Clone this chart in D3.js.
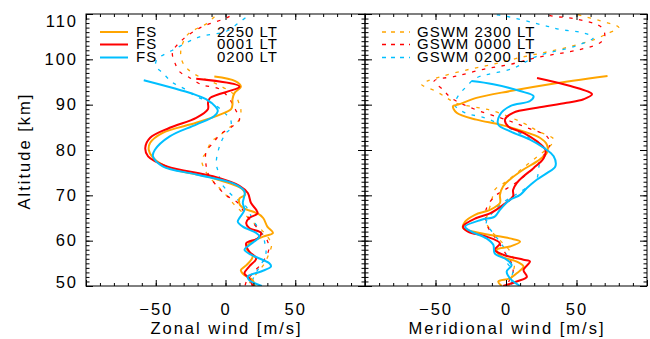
<!DOCTYPE html>
<html>
<head>
<meta charset="utf-8">
<script src="https://cdn.jsdelivr.net/npm/d3@7"></script>
<style>
body { margin: 0; background: #fff; }
text { font-family: "Liberation Sans", Arial, Helvetica, sans-serif; fill: #000; }
</style>
</head>
<body>
<div id="chart"></div>
<script>
// tick values
const altMajor = [50, 60, 70, 80, 90, 100, 110]
const windMajor = [-100, -50, 0, 50, 100]
const windLabels = [-50, 0, 50]

// legend labels
const fsNames = ['FS', 'FS', 'FS']
const fsTimes = ['2250 LT', '0001 LT', '0200 LT']
const gswmNames = ['GSWM 2300 LT', 'GSWM 0000 LT', 'GSWM 0200 LT']

// each point is [altitude km, wind m/s]
const zonalFS2250 = [[96.2,-8],[95.2,7],[94,11],[92.6,6.5],[91.2,5],[90,5],[89,4],[87.8,-4],[86,-21],[83.8,-45],[81.6,-54],[80,-55],[78.3,-52],[76,-40],[73.8,-9],[71.4,12],[70.1,14],[69.3,10],[67.8,10.5],[67,14],[66,23],[65,27],[63.1,30],[61.7,34],[60.9,27],[59.4,17],[58.3,15],[56.5,19.5],[54.6,15],[53.5,11],[52.4,13.5],[51.3,19.5],[50,21]]
const zonalFS0001 = [[95.7,-21],[94,10],[91.5,-11],[90.5,-12.5],[89,-12.6],[87.1,-21],[84.9,-40],[82.7,-54],[80.5,-57.5],[78.6,-55.5],[76.4,-42],[74.2,-9],[72.1,10],[70.5,16],[68.3,18.3],[66.8,22],[66,23],[65,17],[63.9,14.8],[62.8,17],[61.7,25.5],[60.5,23],[59.4,14.8],[57.6,17],[56.1,22],[54.3,17],[52.8,13.6],[51.7,17],[50,19.5]]
const zonalFS0200 = [[95.4,-58.6],[92.4,-23.5],[91.2,-14],[89.5,-7],[88.6,-5.5],[87.5,-8],[85.6,-21],[83,-40],[80,-50.7],[78.6,-52],[76.4,-45],[74.6,-21],[72.7,5],[70.9,13.6],[68.3,12.4],[66.8,13.6],[65,10],[64.2,8.8],[63.1,12.4],[61.7,22],[60.9,24.3],[59,17],[58,13.6],[56.9,18.3],[55,31.4],[54.3,32.6],[53.2,25.5],[52.1,16],[51.3,17],[50,26]]

const zonalGSWM2300 = [[111,-3],[108,-13],[105.5,-27],[102,-32],[99.5,-31],[97.8,-27],[96.2,-19],[94.5,-6],[92,7],[90,10],[89,11],[86.7,10],[85,3],[83,-5],[81.9,-10],[79.4,-14],[77.9,-17],[75.7,-15],[73.5,-10],[71.5,-4],[69.5,2],[67.9,6.5],[66,13],[64,20],[62,27],[60,32],[59,33],[57,31],[55,28],[53,23],[51,18],[50,16]]
const zonalGSWM0000 = [[111,8],[109.5,3],[107,-18],[104,-32],[101.5,-38],[99,-36],[97.3,-33],[96,-26],[94.4,-17],[93.4,-4],[91.2,3],[89,7],[86.7,10],[85,4],[83.4,-4],[81.5,-9],[79.7,-13.8],[76.8,-14],[74.5,-12],[72,-6],[70,0.5],[68.3,9],[66,14],[64,19.5],[62,25],[60,30],[58,31],[56.5,29],[55,26],[53,20],[51,15],[50,14]]
const zonalGSWM0200 = [[111,18],[109.7,16],[108.2,10],[106.2,0.7],[104.9,-19],[102,-38],[100,-49],[98.5,-50],[97,-45],[94.9,-38],[93.6,-30],[92,-22],[90,-8],[88,0],[86.3,4],[84.5,3],[83.8,0.5],[80.8,-4.3],[77.1,-6.6],[75,-5],[72.7,-3],[70.5,3],[69,8.6],[67.5,14.8],[65,19],[63,23],[61,27],[59.8,28],[57.2,29],[55,26],[53,22],[51,19],[50,18]]

const meridFS2250 = [[96.3,72],[94.5,31],[93,3],[91.5,-21],[90,-34],[89.7,-37.6],[88.2,-35],[86.7,-21],[85.6,-4.3],[84.1,12.4],[82.7,24],[81.2,29],[79.4,29],[77.5,22],[75.7,12.4],[73.5,2.8],[72,-2],[70.1,-4.3],[68.3,-4.3],[66.8,-11.4],[65.7,-22],[64.2,-29],[62.8,-30.5],[61.7,-18.6],[60.5,2.8],[59.8,10],[58.7,2.8],[58,-6.6],[56.5,-3],[55.4,7.6],[54.3,12.4],[52.8,7.6],[51.7,2.8],[51,-5.5],[50,-3]]
const meridFS0001 = [[95.9,22],[94.1,45.7],[92.3,61],[91.2,55],[90.4,43],[89.3,22],[88.2,5],[86.7,-0.7],[85.2,1.6],[83.8,12.4],[81.9,22],[80,28],[78.2,26.7],[76,19.5],[74.2,12.4],[72.7,7.6],[71.2,5],[69.8,5],[67.9,-2],[66,-11.4],[65,-21],[63.1,-30.5],[62,-27],[60.9,-13.8],[59.4,-4.3],[58,-8],[56.9,-2],[55.8,12.4],[55.4,17],[53.5,12.4],[52,14.8],[51,7.6],[50,-2]]
const meridFS0200 = [[95.2,-24.5],[94.5,-9],[93,10],[91.9,19.5],[90.8,17],[89.7,3],[87.8,-4.3],[85.6,-5.5],[84.1,3],[82.3,17],[80.5,26.7],[78.6,33.8],[76.4,35],[74.9,29],[73.5,22],[71.6,14.8],[70.1,10],[69,2.8],[66.8,-4.3],[65.3,-8],[64.6,-17.4],[63.1,-29],[62,-24.5],[60.5,-13.8],[59.1,-9],[57.2,-8],[55.8,0.5],[54.6,4],[53.2,0.5],[51.7,2.8],[50,10]]

const meridGSWM2300 = [[111,45],[110,50],[108.5,67],[107,80],[105.7,72],[104.4,63],[102.6,43],[101.5,27],[100.4,10],[99,-8],[97.8,-26],[96.3,-45],[95.2,-56],[94.5,-60],[93,-50],[91.5,-42],[90.4,-36],[89.3,-19],[88.6,-9],[86,12],[84.1,23],[82.3,34],[80.5,30],[79,24],[77,16],[75,8],[73,0],[71.2,-8],[69,-10],[67.9,-11],[66,-13],[64,-14],[62,-10],[60,-4],[57.6,3],[55,6],[53,5],[51,3],[50,2]]
const meridGSWM0000 = [[111,25],[109.7,31],[109,48],[107,68],[105,70],[103.7,67],[102.2,53],[100.4,22],[98.9,3],[97.8,-16],[96.3,-35],[95.2,-51],[93.4,-45],[91.5,-39],[90,-30],[88.5,-18],[87,-3],[86,6],[84.9,15],[83,29],[81.2,31],[79,27],[77,23],[75,16],[73,8],[71,-2],[69.8,-8],[67,-14],[64,-14],[62,-11],[60,-6],[57,0],[55,4],[53,5],[51,2],[50,1]]
const meridGSWM0200 = [[111,-12],[110,-9],[109.6,-1],[107.4,28],[106.6,38],[105.9,54],[104.8,62],[103,50],[100.7,22],[98,5],[95.9,-21],[94,-28],[91.9,-34],[90.5,-36],[89.7,-36],[88.2,-29],[87.1,-15],[85.5,-3],[84,8],[82,20],[79.7,29],[77.1,24],[75.7,23],[73.8,22],[72,16],[70,6],[68,-4],[66,-10],[64,-14],[62,-10],[60,-5],[57.5,0],[55,1],[53.5,5],[52,4],[50,4]]

const colors = ['#ffa500', '#ff0000', '#00bfff']

const W = 650, H = 339
const yTop = 14, yBottom = 286

const svg = d3.select("#chart").append("svg")
    .attr("width", W).attr("height", H)

const y = d3.scaleLinear().domain([50, 110]).range([yBottom, yTop])

// two panels share the y scale
const panels = [
    {id: 'zonal', x0: 86, x1: 365, title: 'Zonal wind [m/s]',
     fs: [zonalFS2250, zonalFS0001, zonalFS0200], gswm: [zonalGSWM2300, zonalGSWM0000, zonalGSWM0200]},
    {id: 'merid', x0: 365, x1: 647, title: 'Meridional wind [m/s]',
     fs: [meridFS2250, meridFS0001, meridFS0200], gswm: [meridGSWM2300, meridGSWM0000, meridGSWM0200]}
]

panels.forEach(function(p, pi) {
    const x = d3.scaleLinear().domain([-100, 100]).range([p.x0, p.x1])
    const g = svg.append("g")

    g.append("clipPath").attr("id", "clip-" + p.id)
        .append("rect").attr("x", p.x0).attr("y", yTop).attr("width", p.x1 - p.x0).attr("height", yBottom - yTop)

    const line = d3.line()
        .x(d => x(d[1]))
        .y(d => y(d[0]))
        .curve(d3.curveCatmullRom.alpha(0.5))

    const curves = g.append("g").attr("clip-path", "url(#clip-" + p.id + ")")

    // model profiles (dashed) go underneath
    curves.selectAll("path.gswm")
        .data(p.gswm)
        .join("path")
        .attr("class", "gswm")
        .attr("d", line)
        .attr("fill", "none")
        .attr("stroke", (d, i) => colors[i])
        .attr("stroke-width", 1.3)
        .attr("stroke-dasharray", "3.5,6.5")

    curves.selectAll("path.fs")
        .data(p.fs)
        .join("path")
        .attr("class", "fs")
        .attr("d", line)
        .attr("fill", "none")
        .attr("stroke", (d, i) => colors[i])
        .attr("stroke-width", 2)
        .attr("stroke-linejoin", "round")

    // minor + major ticks on all four sides, all pointing inward
    const xMinor = d3.range(-100, 101, 10)
    const yMinor = d3.range(50, 111, 1)
    function addAxis(axis, tx, ty, size, values, labels) {
        const a = g.append("g").attr("transform", `translate(${tx},${ty})`)
            .call(axis.tickValues(values).tickSize(size).tickFormat(labels ? null : ""))
        a.select(".domain").remove()
        a.selectAll("line").attr("stroke", "#000")
        return a
    }
    addAxis(d3.axisBottom(x), 0, yBottom, -3, xMinor, false)
    addAxis(d3.axisBottom(x), 0, yBottom, -6, windMajor, false)
    addAxis(d3.axisTop(x), 0, yTop, -3, xMinor, false)
    addAxis(d3.axisTop(x), 0, yTop, -6, windMajor, false)
    addAxis(d3.axisLeft(y), p.x0, 0, -3.5, yMinor, false)
    addAxis(d3.axisRight(y), p.x1, 0, -3.5, yMinor, false)
    addAxis(d3.axisRight(y), p.x1, 0, -7, altMajor, false)

    const yl = addAxis(d3.axisLeft(y).tickPadding(8), p.x0, 0, -7, altMajor, pi === 0)
    if (pi === 0) {
        yl.selectAll("text")
            .style("font-size", "16.5px").style("letter-spacing", "2px")
            .attr("dy", d => d === 110 ? "0.75em" : d === 50 ? "0.08em" : "0.32em")
    }

    // x tick labels
    const xl = addAxis(d3.axisBottom(x).tickPadding(17), 0, yBottom, -6, windLabels, true)
    xl.selectAll("line").remove()
    xl.selectAll("text").style("font-size", "16.5px").style("letter-spacing", "2px")

    // frame
    g.append("rect")
        .attr("x", p.x0).attr("y", yTop)
        .attr("width", p.x1 - p.x0).attr("height", yBottom - yTop)
        .attr("fill", "none").attr("stroke", "#000").attr("stroke-width", 1)

    g.append("text")
        .attr("x", (p.x0 + p.x1) / 2 + 1).attr("y", 334)
        .attr("text-anchor", "middle")
        .style("font-size", "16.5px").style("letter-spacing", "2px")
        .text(p.title)
})

svg.append("text")
    .attr("transform", "translate(30,151) rotate(-90)")
    .attr("text-anchor", "middle")
    .style("font-size", "16.5px").style("letter-spacing", "2px")
    .text("Altitude [km]")

// legends
const rowY = [32, 44.5, 57.5]
const legL = svg.append("g")
fsNames.forEach(function(n, i) {
    legL.append("line").attr("x1", 100).attr("x2", 128).attr("y1", rowY[i]).attr("y2", rowY[i])
        .attr("stroke", colors[i]).attr("stroke-width", 2)
    legL.append("text").attr("x", 136).attr("y", rowY[i] + 4.5)
        .style("font-size", "15px").style("letter-spacing", "1px").text(n)
    legL.append("text").attr("x", 217).attr("y", rowY[i] + 4.5)
        .style("font-size", "15px").style("letter-spacing", "1px").text(fsTimes[i])
})
const legR = svg.append("g")
gswmNames.forEach(function(n, i) {
    legR.append("line").attr("x1", 382).attr("x2", 410).attr("y1", rowY[i]).attr("y2", rowY[i])
        .attr("stroke", colors[i]).attr("stroke-width", 1.3).attr("stroke-dasharray", "4,5")
    legR.append("text").attr("x", 417).attr("y", rowY[i] + 4.5)
        .style("font-size", "15px").style("letter-spacing", "1px").text(n)
})
</script>
</body>
</html>
